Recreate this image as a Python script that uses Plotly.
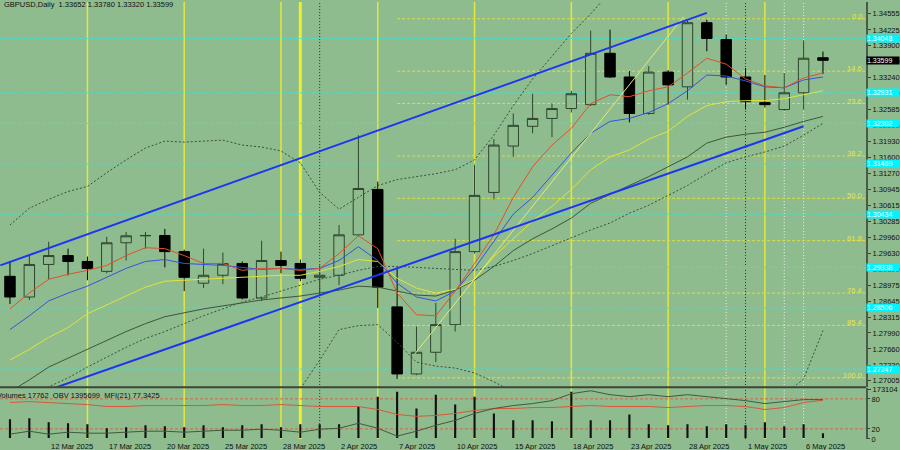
import plotly.graph_objects as go

# ---------------- data ----------------
dates = ["10 Mar 2025", "11 Mar 2025", "12 Mar 2025", "13 Mar 2025", "14 Mar 2025",
         "17 Mar 2025", "18 Mar 2025", "19 Mar 2025", "20 Mar 2025", "21 Mar 2025",
         "24 Mar 2025", "25 Mar 2025", "26 Mar 2025", "27 Mar 2025", "28 Mar 2025",
         "31 Mar 2025", "1 Apr 2025", "2 Apr 2025", "3 Apr 2025", "4 Apr 2025",
         "7 Apr 2025", "8 Apr 2025", "9 Apr 2025", "10 Apr 2025", "11 Apr 2025",
         "14 Apr 2025", "15 Apr 2025", "16 Apr 2025", "17 Apr 2025", "18 Apr 2025",
         "21 Apr 2025", "22 Apr 2025", "23 Apr 2025", "24 Apr 2025", "25 Apr 2025",
         "28 Apr 2025", "29 Apr 2025", "30 Apr 2025", "1 May 2025", "2 May 2025",
         "5 May 2025", "6 May 2025", "7 May 2025"]
prior_date = "7 Mar 2025"

open_ = [1.29155, 1.28729, 1.29399, 1.29582, 1.29460, 1.29257, 1.29845, 1.29988, 1.29995, 1.29663,
         1.29013, 1.29176, 1.29419, 1.28709, 1.29480, 1.29419, 1.29135, 1.29176, 1.30008, 1.30942,
         1.28526, 1.27146, 1.27592, 1.28161, 1.29663, 1.30881, 1.31835, 1.32241, 1.32403, 1.32606,
         1.32687, 1.33743, 1.33256, 1.32505, 1.33357, 1.33053, 1.34372, 1.34027, 1.33256, 1.32728,
         1.32586, 1.32931, 1.33652]
high = [1.29460, 1.29602, 1.29866, 1.29724, 1.29561, 1.29967, 1.30069, 1.30069, 1.30130, 1.29704,
        1.29724, 1.29642, 1.29460, 1.29886, 1.29663, 1.29500, 1.29379, 1.30211, 1.32058, 1.31104,
        1.29318, 1.28120, 1.28607, 1.29927, 1.31449, 1.31977, 1.32505, 1.32911, 1.32708, 1.32972,
        1.34210, 1.34230, 1.33378, 1.33479, 1.33398, 1.34433, 1.34433, 1.34129, 1.33439, 1.33296,
        1.33337, 1.34007, 1.33780]
low = [1.28587, 1.28668, 1.29094, 1.29176, 1.29074, 1.29216, 1.29480, 1.29724, 1.29338, 1.28851,
       1.28912, 1.28993, 1.28680, 1.28648, 1.29216, 1.29054, 1.28770, 1.28973, 1.29980, 1.28506,
       1.27044, 1.27120, 1.27389, 1.28018, 1.29620, 1.30739, 1.31612, 1.32099, 1.32018, 1.32525,
       1.32660, 1.33236, 1.32322, 1.32480, 1.32687, 1.32789, 1.33784, 1.33093, 1.32586, 1.32627,
       1.32560, 1.32586, 1.33320]
close = [1.28729, 1.29399, 1.29582, 1.29460, 1.29318, 1.29845, 1.29988, 1.29995, 1.29663, 1.29135,
         1.29176, 1.29419, 1.28709, 1.29480, 1.29379, 1.29115, 1.29176, 1.30008, 1.30962, 1.28932,
         1.27146, 1.27592, 1.28161, 1.29663, 1.30820, 1.31855, 1.32261, 1.32403, 1.32606, 1.32911,
         1.33743, 1.33256, 1.32505, 1.33357, 1.33093, 1.34372, 1.34048, 1.33256, 1.32748, 1.32687,
         1.32931, 1.33642, 1.33599]

ma_red = [1.28485, 1.28810, 1.29094, 1.29196, 1.29277, 1.29379, 1.29582, 1.29744, 1.29724, 1.29582,
          1.29419, 1.29419, 1.29277, 1.29318, 1.29318, 1.29277, 1.29318, 1.29622, 1.29988, 1.29724,
          1.28810, 1.28364, 1.28343, 1.28851, 1.29419, 1.30008, 1.30779, 1.31409, 1.31855, 1.32200,
          1.32708, 1.32890, 1.32850, 1.32972, 1.33053, 1.33337, 1.33642, 1.33520, 1.33215, 1.33073,
          1.33033, 1.33236, 1.33337]
ma_blue = [1.28059, 1.28343, 1.28648, 1.28810, 1.28952, 1.29135, 1.29318, 1.29460, 1.29500, 1.29419,
           1.29399, 1.29379, 1.29338, 1.29297, 1.29318, 1.29297, 1.29318, 1.29480, 1.29764, 1.29480,
           1.29013, 1.28729, 1.28648, 1.28851, 1.29318, 1.29886, 1.30434, 1.30779, 1.31246, 1.31693,
           1.32099, 1.32342, 1.32403, 1.32525, 1.32708, 1.32972, 1.33296, 1.33276, 1.33175, 1.33053,
           1.33033, 1.33195, 1.33256]
ma_yellow = [1.27430, 1.27653, 1.27897, 1.28100, 1.28384, 1.28567, 1.28749, 1.28932, 1.29054, 1.29074,
             1.29094, 1.29115, 1.29135, 1.29155, 1.29176, 1.29176, 1.29257, 1.29358, 1.29500, 1.29460,
             1.29115, 1.28912, 1.28810, 1.28891, 1.29094, 1.29561, 1.29927, 1.30292, 1.30597, 1.30942,
             1.31348, 1.31612, 1.31754, 1.31977, 1.32139, 1.32444, 1.32667, 1.32748, 1.32769, 1.32769,
             1.32809, 1.32890, 1.32972]
ma_slow = [1.26780, 1.27024, 1.27288, 1.27470, 1.27653, 1.27836, 1.28018, 1.28181, 1.28323, 1.28404,
           1.28485, 1.28546, 1.28607, 1.28668, 1.28709, 1.28749, 1.28810, 1.28871, 1.28952, 1.28932,
           1.28851, 1.28770, 1.28749, 1.28871, 1.29074, 1.29358, 1.29683, 1.29927, 1.30130, 1.30353,
           1.30657, 1.30840, 1.31023, 1.31206, 1.31409, 1.31612, 1.31896, 1.32018, 1.32078, 1.32119,
           1.32221, 1.32342, 1.32444]
ma_dotted = [1.26557, 1.26719, 1.26882, 1.27064, 1.27288, 1.27491, 1.27694, 1.27876, 1.28018, 1.28181,
             1.28343, 1.28485, 1.28627, 1.28729, 1.28851, 1.28973, 1.29094, 1.29176, 1.29277, 1.29358,
             1.29358, 1.29338, 1.29318, 1.29297, 1.29277, 1.29358, 1.29480, 1.29622, 1.29785, 1.29947,
             1.30109, 1.30251, 1.30454, 1.30617, 1.30820, 1.31023, 1.31266, 1.31490, 1.31612, 1.31713,
             1.31835, 1.32058, 1.32302]
bb_upper = [1.30211, 1.30556, 1.30739, 1.30901, 1.31003, 1.31287, 1.31551, 1.31794, 1.31936, 1.31916,
            1.31936, 1.31957, 1.31855, 1.31815, 1.31733, 1.31490, 1.30881, 1.30536, 1.30779, 1.31023,
            1.31145, 1.31206, 1.31266, 1.31348, 1.31551, 1.32058, 1.32667, 1.33215, 1.33682, 1.34149,
            1.34555, 1.35000, 1.35180, 1.35330, 1.35470, 1.35600, 1.35720, 1.35800, 1.35850, 1.35880,
            1.35900, 1.35900, 1.35880]
bb_lower = [1.26100, 1.26050, 1.26000, 1.25980, 1.26000, 1.26050, 1.26100, 1.26150, 1.26200, 1.26250,
            1.26300, 1.26400, 1.26500, 1.26600, 1.26650, 1.26841, 1.27430, 1.28059, 1.28140, 1.28161,
            1.27795, 1.27389, 1.27308, 1.27267, 1.27166, 1.26983, 1.26780, 1.26600, 1.26550, 1.26500,
            1.26450, 1.26400, 1.26380, 1.26360, 1.26360, 1.26380, 1.26420, 1.26480, 1.26550, 1.26620,
            1.26719, 1.27044, 1.28039]

volumes = [67100, 70700, 56500, 53000, 49500, 35300, 38900, 45900, 42400, 38900,
           45900, 38900, 45900, 49500, 38900, 49500, 49500, 49500, 113100, 148400,
           166100, 106000, 155500, 120100, 148400, 88300, 63600, 63600, 60100, 166100,
           63600, 63600, 84800, 49500, 45900, 49500, 42400, 49500, 45900, 56500,
           42400, 49500, 17762]
obv = [520699, 595699, 520699, 570699, 545699, 545699, 570699, 595699, 595699, 570699,
       595699, 620699, 620699, 645699, 620699, 570699, 645699, 670699, 795699, 670699,
       470699, 595699, 745699, 870699, 1045699, 1170699, 1245699, 1295699, 1370699, 1545699,
       1620699, 1520699, 1470699, 1520699, 1470699, 1520699, 1470699, 1420699, 1370699, 1295699,
       1345699, 1395699, 1395699]
mfi = [72.6, 74.6, 72.6, 70.6, 68.6, 64.7, 64.7, 66.7, 66.7, 66.7,
       66.7, 68.6, 66.7, 66.7, 68.6, 66.7, 64.7, 64.7, 64.7, 58.8,
       48.9, 45.0, 46.9, 50.9, 56.8, 60.7, 60.7, 62.7, 62.7, 64.7,
       66.7, 64.7, 64.7, 64.7, 62.7, 64.7, 66.7, 66.7, 64.7, 58.8,
       62.7, 72.6, 77.3425]

# channel / trend lines: (bar position, price)
channel_upper = [(-0.5, 1.29379), (36.0, 1.34575)]
channel_lower = [(-0.5, 1.26468), (41.0, 1.32241)]
trend_light = [(20.9, 1.27552), (34.8, 1.34494)]

# horizontal support / resistance levels (cyan)
h_levels = [1.34048, 1.32931, 1.32302, 1.31469, 1.30434, 1.29338, 1.28506, 1.27247]

# fibonacci
fib_levels = [0.0, 14.6, 23.6, 38.2, 50.0, 61.8, 76.4, 85.4, 100.0]
fib_high = 1.34453
fib_low = 1.27066
fib_start = "7 Apr 2025"

price_ticks = [1.34555, 1.34225, 1.33900, 1.33570, 1.33240, 1.32910, 1.32585, 1.32255, 1.31930,
               1.31600, 1.31270, 1.30945, 1.30615, 1.30285, 1.29960, 1.29630, 1.29300, 1.28975,
               1.28645, 1.28315, 1.27990, 1.27660, 1.27330, 1.27005]

week_ends = ["14 Mar 2025", "21 Mar 2025", "28 Mar 2025", "4 Apr 2025", "11 Apr 2025",
             "18 Apr 2025", "25 Apr 2025", "2 May 2025"]
thick_marks = ["31 Mar 2025"]
dark_marks = ["1 Apr 2025", "1 May 2025"]
white_marks = ["30 Apr 2025", "5 May 2025", "6 May 2025"]

symbol = "GBPUSD,Daily"
last_price = 1.33599

assert all(len(a) == len(dates) for a in [open_, high, low, close, ma_red, ma_blue, ma_yellow,
                                          ma_slow, ma_dotted, bb_upper, bb_lower, volumes, obv, mfi])

# ---------------- layout geometry ----------------
W, H = 900, 450
BG = "#8FBC8F"
FONT = "Liberation Sans, Arial, sans-serif"
TXT = "#101010"
XD = 868 / W
X_RANGE = [-0.5155, 44.227]
MAIN_DOM = [60 / H, 1.0]
MAIN_RANGE = [1.268816, 1.347986]
LOW_DOM = [7 / H, 59 / H]
VOL_RANGE = [-3533, 180183]
MFI_RANGE = [-0.39, 102.17]
OBV_RANGE = [395699, 1695699]

xs = list(range(len(dates)))
pos = {d: i for i, d in enumerate(dates)}

fig = go.Figure()

# lower panel: volumes, OBV, MFI
fig.add_trace(go.Bar(x=xs, y=volumes, width=0.11, marker=dict(color="#101010", line=dict(width=0)),
                     xaxis="x2", yaxis="y2", hoverinfo="skip"))
fig.add_trace(go.Scatter(x=xs, y=mfi, mode="lines", line=dict(color="#d8583a", width=1),
                         xaxis="x2", yaxis="y3", hoverinfo="skip"))
fig.add_trace(go.Scatter(x=xs, y=obv, mode="lines", line=dict(color="#3e5a3e", width=1),
                         xaxis="x2", yaxis="y4", hoverinfo="skip"))

# main panel: candles
fig.add_trace(go.Candlestick(
    x=xs, open=open_, high=high, low=low, close=close,
    increasing=dict(line=dict(color="#2e452e", width=1), fillcolor=BG),
    decreasing=dict(line=dict(color="#000000", width=1), fillcolor="#000000"),
    whiskerwidth=0, xaxis="x", yaxis="y", hoverinfo="skip"))

def line_trace(y, color, dash=None, width=1):
    return go.Scatter(x=xs, y=y, mode="lines", xaxis="x", yaxis="y", hoverinfo="skip",
                      line=dict(color=color, width=width, dash=dash))

fig.add_trace(line_trace(bb_upper, "#3c4f3c", "2px,2px"))
fig.add_trace(line_trace(bb_lower, "#3c4f3c", "2px,2px"))
fig.add_trace(line_trace(ma_dotted, "#3c4f3c", "2px,2px"))
fig.add_trace(line_trace(ma_slow, "#3c553c"))
fig.add_trace(line_trace(ma_yellow, "#e2e23a"))
fig.add_trace(line_trace(ma_blue, "#3652e0"))
fig.add_trace(line_trace(ma_red, "#e0502c"))

for pts, col, wd in [(trend_light, "#e4ea7a", 1), (channel_upper, "#1c36f0", 2), (channel_lower, "#1c36f0", 2)]:
    fig.add_trace(go.Scatter(x=[p[0] for p in pts], y=[p[1] for p in pts], mode="lines",
                             line=dict(color=col, width=wd), xaxis="x", yaxis="y", hoverinfo="skip"))

# ---------------- shapes ----------------
shapes = []
BOT = LOW_DOM[0]
for d in week_ends:
    shapes.append(dict(type="line", xref="x", yref="paper", x0=pos[d], x1=pos[d], y0=BOT, y1=1,
                       line=dict(color="#e2e83c", width=1.5), layer="below"))
for d in thick_marks:
    shapes.append(dict(type="line", xref="x", yref="paper", x0=pos[d], x1=pos[d], y0=BOT, y1=1,
                       line=dict(color="#eef026", width=3), layer="below"))
for d in dark_marks:
    shapes.append(dict(type="line", xref="x", yref="paper", x0=pos[d], x1=pos[d], y0=BOT, y1=1,
                       line=dict(color="#2a2a2a", width=1, dash="1px,2px"), layer="below"))
for d in white_marks:
    shapes.append(dict(type="line", xref="x", yref="paper", x0=pos[d], x1=pos[d], y0=BOT, y1=1,
                       line=dict(color="#e8f0e8", width=1, dash="1px,2px"), layer="below"))
for lv in h_levels:
    shapes.append(dict(type="line", xref="paper", yref="y", x0=0, x1=XD, y0=lv, y1=lv,
                       line=dict(color="#48dcd0", width=1, dash="4px,2px"), layer="below"))
fib_prices = [fib_high - (fib_high - fib_low) * lv / 100 for lv in fib_levels]
for p in fib_prices:
    shapes.append(dict(type="line", xref="x", yref="y", x0=pos[fib_start], x1=X_RANGE[1], y0=p, y1=p,
                       line=dict(color="#dede40", width=1, dash="3px,2px"), layer="below"))
for lv in [80, 20]:
    shapes.append(dict(type="line", xref="paper", yref="y3", x0=0, x1=XD, y0=lv, y1=lv,
                       line=dict(color="#d8624a", width=1, dash="3px,2px"), layer="below"))
# panel separator
shapes.append(dict(type="line", xref="paper", yref="paper", x0=0, x1=XD, y0=59.5 / H, y1=59.5 / H,
                   line=dict(color="#3a463a", width=2)))

# ---------------- annotations ----------------
ann = []
ann.append(dict(text=f"{symbol}\u00a0\u00a0{open_[-1]:.5f} {high[-1]:.5f} {low[-1]:.5f} {close[-1]:.5f}",
                xref="paper", yref="paper", x=2 / W, y=1 + 4 / H, xanchor="left", yanchor="top",
                showarrow=False, font=dict(size=7.5, color=TXT, family=FONT)))
ann.append(dict(text=f"Volumes {volumes[-1]}\u00a0\u00a0OBV {obv[-1]}\u00a0\u00a0MFI(21) {mfi[-1]:.4f}",
                xref="paper", yref="paper", x=-5 / W, y=(H - 395) / H, xanchor="left", yanchor="middle",
                yshift=-4, showarrow=False, font=dict(size=7.5, color=TXT, family=FONT)))
all_dates = [prior_date] + dates
for i in range(-1, len(dates), 3):
    ann.append(dict(text=all_dates[i + 1], xref="x", yref="paper", x=i, y=(H - 446.5) / H,
                    xanchor="left", yanchor="middle", yshift=-4, showarrow=False,
                    font=dict(size=7.5, color=TXT, family=FONT)))
for lv, p in zip(fib_levels, fib_prices):
    ann.append(dict(text=f"{lv:.1f}", xref="paper", yref="y", x=865 / W, y=p, xanchor="right",
                    yanchor="bottom", showarrow=False, borderpad=0, yshift=-3,
                    font=dict(size=7.5, color="#e6e648", family=FONT)))
for lv in h_levels:
    ann.append(dict(text=f"{lv:.5f}", xref="paper", yref="y", x=868 / W, y=lv, xanchor="left",
                    yanchor="middle", showarrow=False, borderpad=0, width=32, height=7, align="left",
                    bgcolor="#00f4ff", font=dict(size=7, color="#ffffff", family=FONT)))
ann.append(dict(text=f"{last_price:.5f}", xref="paper", yref="y", x=868 / W, y=last_price, xanchor="left",
                yanchor="middle", showarrow=False, borderpad=0, width=32, height=7, align="left",
                bgcolor="#000000", font=dict(size=7, color="#ffffff", family=FONT)))

axis_font = dict(size=7.5, color=TXT, family=FONT)
fig.update_layout(
    width=W, height=H, margin=dict(l=0, r=0, t=0, b=0),
    paper_bgcolor=BG, plot_bgcolor=BG, showlegend=False, boxgap=0.23,
    font=dict(family=FONT, size=7.5, color=TXT),
    xaxis=dict(domain=[0, XD], range=X_RANGE, anchor="y", showticklabels=False, showgrid=False,
               zeroline=False, ticks="", rangeslider=dict(visible=False)),
    xaxis2=dict(domain=[0, XD], range=X_RANGE, anchor="y2", showticklabels=False, showgrid=False,
                zeroline=False, ticks=""),
    yaxis=dict(domain=MAIN_DOM, range=MAIN_RANGE, anchor="x", side="right", tickvals=price_ticks,
               tickformat=".5f", ticks="outside", ticklen=3, tickcolor="#3a463a", showgrid=False,
               zeroline=False, showline=True, linecolor="#4a5a4a", linewidth=2, tickfont=axis_font),
    yaxis2=dict(domain=LOW_DOM, range=VOL_RANGE, anchor="x2", side="right", tickvals=[173104],
                ticktext=["173104"], ticks="outside", ticklen=3, tickcolor="#3a463a", showgrid=False,
                zeroline=False, showline=True, linecolor="#4a5a4a", linewidth=2, tickfont=axis_font),
    yaxis3=dict(overlaying="y2", range=MFI_RANGE, anchor="x2", side="right", tickvals=[0, 20, 80],
                ticks="outside", ticklen=3, tickcolor="#3a463a", showgrid=False, zeroline=False,
                showline=False, tickfont=axis_font),
    yaxis4=dict(overlaying="y2", range=OBV_RANGE, anchor="x2", side="right", visible=False),
    shapes=shapes, annotations=ann,
)

fig.write_html("out.html", config={"displayModeBar": False},
               post_script="document.body.style.margin='0';document.body.style.padding='0';"
                           "document.body.style.overflow='hidden';")
